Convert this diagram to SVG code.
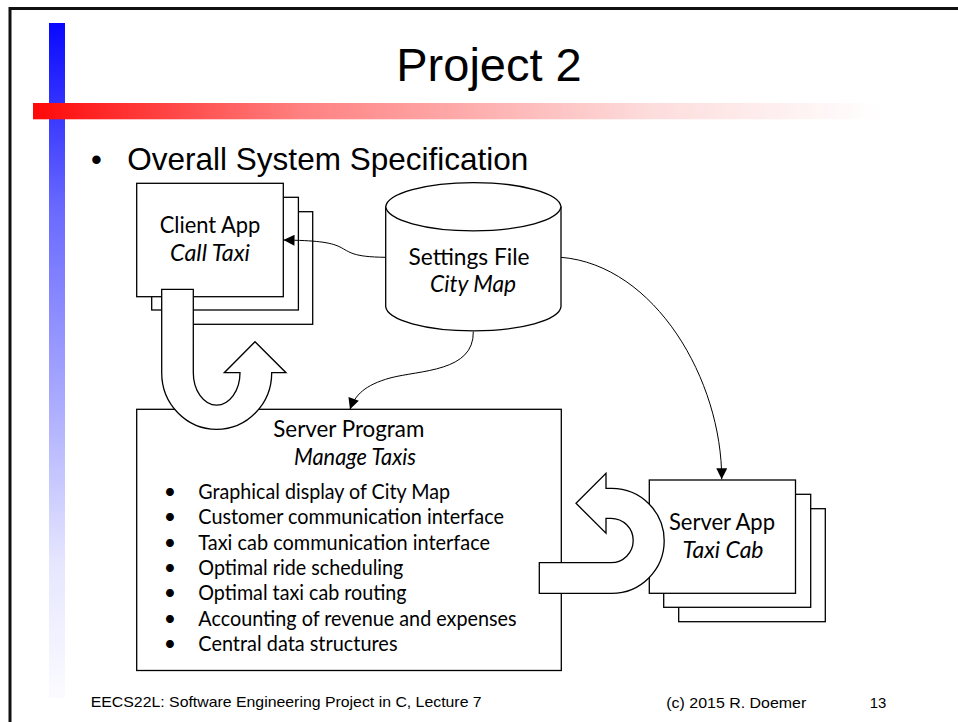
<svg xmlns="http://www.w3.org/2000/svg" width="958" height="722" viewBox="0 0 958 722">
<style>
.box{fill:#fff;stroke:#000;stroke-width:1.3}
.lbl{font-family:Lato,"Open Sans",sans-serif;font-size:24px;fill:#000;text-anchor:middle}
.it{font-style:italic}
.li{font-family:Lato,"Open Sans",sans-serif;font-size:21.3px;fill:#000}
.slide{font-family:"Liberation Sans",Arial,sans-serif;fill:#000}
.con{fill:none;stroke:#000;stroke-width:1}
.blk{fill:#fff;stroke:#000;stroke-width:1.3;stroke-linejoin:miter}
</style>
<defs>
<linearGradient id="gBlue" x1="0" y1="0" x2="0" y2="1">
<stop offset="0" stop-color="#0808ff"/>
<stop offset="0.27" stop-color="#6868ff"/>
<stop offset="0.55" stop-color="#a8a8ff"/>
<stop offset="0.8" stop-color="#e6e6ff"/>
<stop offset="1" stop-color="#fbfbff"/>
</linearGradient>
<linearGradient id="gRed" x1="0" y1="0" x2="1" y2="0">
<stop offset="0" stop-color="#ff0808"/>
<stop offset="0.308" stop-color="#ff8080"/>
<stop offset="0.712" stop-color="#fddcdc"/>
<stop offset="0.98" stop-color="#ffffff"/>
</linearGradient>
<marker id="ah" viewBox="0 0 10 10" refX="10" refY="5" markerWidth="13" markerHeight="11" markerUnits="userSpaceOnUse" orient="auto">
<path d="M0,0 L10,5 L0,10 z" fill="#000"/>
</marker>
</defs>
<rect width="958" height="722" fill="#fff"/>
<g id="frame">
<line x1="10" y1="8.5" x2="958" y2="8.5" stroke="#111" stroke-width="3"/>
<line x1="10" y1="7" x2="10" y2="722" stroke="#111" stroke-width="3"/>
<rect x="49" y="23" width="16" height="675" fill="url(#gBlue)"/>
<rect x="33" y="103" width="867" height="16.3" fill="url(#gRed)"/>
</g>
<text class="slide" x="489" y="81" font-size="47" text-anchor="middle">Project 2</text>
<text class="slide" x="96.5" y="170" font-size="31" text-anchor="middle">•</text>
<text class="slide" x="127.3" y="170" font-size="31.5" textLength="401" lengthAdjust="spacingAndGlyphs">Overall System Specification</text>

<g id="client-app">
<rect class="box" x="166" y="211.7" width="146.7" height="112.6"/>
<rect class="box" x="151.7" y="197.3" width="146.7" height="112.7"/>
<rect class="box" x="136.7" y="183.3" width="146.6" height="113.4"/>
<text class="lbl" x="210" y="233.3" textLength="100.7" lengthAdjust="spacingAndGlyphs">Client App</text>
<text class="lbl it" x="210" y="260.7" textLength="80" lengthAdjust="spacingAndGlyphs">Call Taxi</text>
</g>

<g id="settings-file">
<path class="box" d="M385.7,206.7 A87.7,25 0 0 1 561,206.7 L561,306.7 A87.7,25 0 0 1 385.7,306.7 Z"/>
<path class="box" d="M385.7,206.7 A87.7,25 0 0 0 561,206.7" fill="none"/>
<text class="lbl" x="469" y="265" textLength="121" lengthAdjust="spacingAndGlyphs">Settings File</text>
<text class="lbl it" x="473" y="291.5" textLength="86" lengthAdjust="spacingAndGlyphs">City Map</text>
</g>

<g id="server-program">
<rect class="box" x="136.7" y="409.3" width="424.6" height="261.2"/>
<text class="lbl" x="348.8" y="436.7" textLength="151" lengthAdjust="spacingAndGlyphs">Server Program</text>
<text class="lbl it" x="355" y="465" textLength="122" lengthAdjust="spacingAndGlyphs">Manage Taxis</text>
<g class="li">
<text x="170" y="499" text-anchor="middle">•</text>
<text x="198.3" y="499" textLength="251.7" lengthAdjust="spacingAndGlyphs">Graphical display of City Map</text>
<text x="170" y="524" text-anchor="middle">•</text>
<text x="198.3" y="524" textLength="305.7" lengthAdjust="spacingAndGlyphs">Customer communication interface</text>
<text x="170" y="549.5" text-anchor="middle">•</text>
<text x="198.3" y="549.5" textLength="291.7" lengthAdjust="spacingAndGlyphs">Taxi cab communication interface</text>
<text x="170" y="575" text-anchor="middle">•</text>
<text x="198.3" y="575" textLength="205" lengthAdjust="spacingAndGlyphs">Optimal ride scheduling</text>
<text x="170" y="600" text-anchor="middle">•</text>
<text x="198.3" y="600" textLength="208.3" lengthAdjust="spacingAndGlyphs">Optimal taxi cab routing</text>
<text x="170" y="625.5" text-anchor="middle">•</text>
<text x="198.3" y="625.5" textLength="318.3" lengthAdjust="spacingAndGlyphs">Accounting of revenue and expenses</text>
<text x="170" y="651" text-anchor="middle">•</text>
<text x="198.3" y="651" textLength="199.2" lengthAdjust="spacingAndGlyphs">Central data structures</text>
</g>
</g>

<g id="server-app">
<rect class="box" x="678.7" y="508.7" width="146.6" height="113"/>
<rect class="box" x="663.7" y="494.3" width="147" height="113"/>
<rect class="box" x="649.3" y="480" width="146.2" height="113.3"/>
<text class="lbl" x="722" y="530" textLength="106" lengthAdjust="spacingAndGlyphs">Server App</text>
<text class="lbl it" x="723" y="558.3" textLength="81" lengthAdjust="spacingAndGlyphs">Taxi Cab</text>
</g>

<g id="connectors">
<path class="blk" d="M161.7,289.3 L193.3,289.3 L193.3,372.7 A23.3,32.3 0 0 0 240,372.7 L224.3,372.7 L255,341.7 L286,372.7 L271.7,372.7 A55,56.6 0 0 1 161.7,372.7 Z"/>
<path class="blk" d="M539.3,562.7 L611,562.7 A22.2,22.2 0 0 0 611,518.3 L606,518.3 L606,533.3 L576,503.3 L606,473.3 L606,488.3 L611.7,488.3 A52.5,52.5 0 0 1 611.7,593.3 L539.3,593.3 Z"/>
<path class="con" marker-end="url(#ah)" d="M385.7,257.3 C352,257 350,252 340,247 C330,242 315,240.5 283.5,240"/>
<path class="con" marker-end="url(#ah)" d="M473.3,331.7 C474,372 420,370 390,378 C365,385 355,395 350,409.3"/>
<path class="con" marker-end="url(#ah)" d="M561,257.3 C655,265 722,380 721.7,479.3"/>
</g>

<g id="footer" class="slide">
<text x="90.7" y="707" font-size="14.5" textLength="391" lengthAdjust="spacingAndGlyphs">EECS22L: Software Engineering Project in C, Lecture 7</text>
<text x="666.3" y="707.5" font-size="14.5" textLength="140" lengthAdjust="spacingAndGlyphs">(c) 2015 R. Doemer</text>
<text x="869.7" y="707.5" font-size="14.5" textLength="16.6" lengthAdjust="spacingAndGlyphs">13</text>
</g>
</svg>
